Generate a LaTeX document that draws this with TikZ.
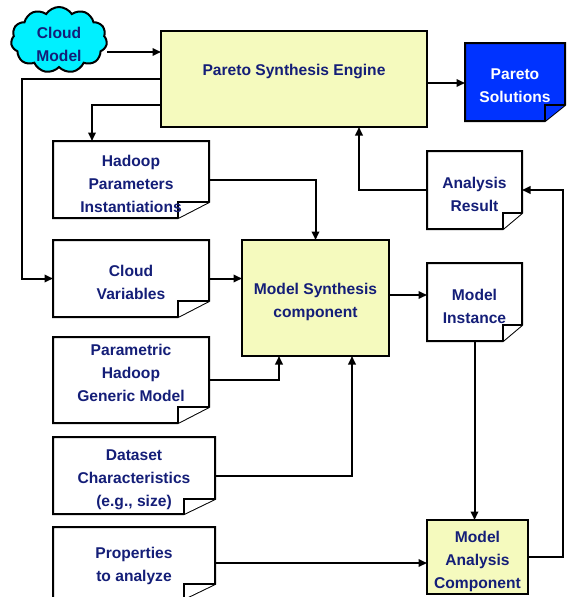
\documentclass[tikz,border=0pt]{standalone}
\usepackage{fontspec}
\setmainfont{Liberation Sans}
\usetikzlibrary{arrows.meta,shapes.symbols,backgrounds}
\definecolor{navy}{RGB}{20,30,120}
\definecolor{paleyellow}{RGB}{245,250,190}
\definecolor{cloudcyan}{RGB}{0,240,255}
\definecolor{solblue}{RGB}{0,51,255}
\newcommand\docshape[4]{%
  \begin{scope}[on background layer]
    \draw[line width=2pt, fill=#4, line join=miter] (#1.north west) -- (#1.north east) -- ([yshift=#3pt]#1.south east) -- ([xshift=-#2pt]#1.south east) -- (#1.south west) -- cycle;
    \draw[line width=2pt, fill=#4] ([xshift=-#2pt]#1.south east) -- ([xshift=-#2pt,yshift=#3pt]#1.south east) -- ([yshift=#3pt]#1.south east);
  \end{scope}}
\tikzset{
  txt/.style={font=\fontsize{15.6}{23}\selectfont\bfseries, text=navy, align=center, inner sep=0pt},
  wtxt/.style={txt, text=white},
  holder/.style={inner sep=0pt, outer sep=0pt, draw=none},
  ybox/.style={holder, draw=black, line width=2pt, fill=paleyellow},
  arr/.style={line width=2pt, -{Triangle[length=8.5pt,width=7.5pt]}},
  ln/.style={line width=2pt}
}
\begin{document}
\begin{tikzpicture}[x=1pt,y=-1pt]
\useasboundingbox (0,0) rectangle (567,597);
% nodes
\node[cloud, cloud puffs=11, cloud puff arc=115, aspect=1.45, draw=black, line width=2pt, fill=cloudcyan,
      minimum width=96pt, minimum height=66pt, inner sep=0pt, label={[txt,yshift=-4pt]center:Cloud\\Model}] (cloud) at (59,40) {};
\node[ybox, minimum width=266pt, minimum height=96pt, label={[txt,yshift=7.5pt]center:Pareto Synthesis Engine}] (pse) at (294,79) {};
\node[holder, minimum width=100pt, minimum height=78pt, label={[wtxt,yshift=-4pt]center:Pareto\\Solutions}] (ps) at (515,82) {};
\node[holder, minimum width=156pt, minimum height=77pt, label={[txt,yshift=-4pt]center:Hadoop\\Parameters\\Instantiations}] (hadoop) at (131,179.5) {};
\node[holder, minimum width=95pt, minimum height=78pt, label={[txt,yshift=-4.5pt]center:Analysis\\Result}] (ar) at (474.5,190) {};
\node[holder, minimum width=156pt, minimum height=77pt, label={[txt,yshift=-3.5pt]center:Cloud\\Variables}] (cv) at (131,278.5) {};
\node[ybox, minimum width=147pt, minimum height=116pt, label={[txt,yshift=-4pt]center:Model Synthesis\\component}] (msc) at (315.5,298) {};
\node[holder, minimum width=95pt, minimum height=78pt, label={[txt,yshift=-4pt]center:Model\\Instance}] (mi) at (474.5,302) {};
\node[holder, minimum width=156pt, minimum height=86pt, label={[txt,yshift=7.5pt]center:Parametric\\Hadoop\\Generic Model}] (ph) at (131,380) {};
\node[holder, minimum width=162pt, minimum height=77pt, label={[txt,yshift=-4pt]center:Dataset\\Characteristics\\(e.g., size)}] (ds) at (134,475.5) {};
\node[holder, minimum width=162pt, minimum height=72pt, label={[txt,yshift=-3pt]center:Properties\\to analyze}] (props) at (134,563) {};
\node[ybox, minimum width=101pt, minimum height=74pt, label={[txt,yshift=-4.5pt]center:Model\\Analysis\\Component}] (ma) at (477.5,557) {};
% document shapes
\docshape{ps}{20}{16}{solblue}
\docshape{hadoop}{31}{16}{white}
\docshape{ar}{19}{16}{white}
\docshape{cv}{31}{16}{white}
\docshape{mi}{19}{16}{white}
\docshape{ph}{31}{16}{white}
\docshape{ds}{31}{15}{white}
\docshape{props}{31}{15}{white}
% connectors
\draw[arr] ([yshift=-12pt]cloud.east) -- ([yshift=-12pt]cloud.east -| pse.west);
\draw[arr] ([yshift=-4pt]pse.east) -- ([yshift=-4pt]pse.east -| ps.west);
\draw[arr] (pse.west) -- ++(-139,0) |- (cv.west);
\draw[arr] ([yshift=-26pt]pse.west) -| ([xshift=-39pt]hadoop.north);
\draw[arr] (hadoop.east) -| (msc.north);
\draw[arr] (cv.east) -- (cv.east -| msc.west);
\draw[arr] (ph.east) -| ([xshift=-36.5pt]msc.south);
\draw[arr] (ds.east) -| ([xshift=36.5pt]msc.south);
\draw[arr] ([yshift=3pt]msc.east) -- ([yshift=3pt]msc.east -| mi.west);
\draw[arr] (mi.south) -- (mi.south |- ma.north);
\draw[arr] (props.east) -- (props.east -| ma.west);
\draw[arr] (ma.east) -- ++(35,0) |- (ar.east);
\draw[arr] (ar.west) -| ([xshift=65pt]pse.south);
\end{tikzpicture}
\end{document}
